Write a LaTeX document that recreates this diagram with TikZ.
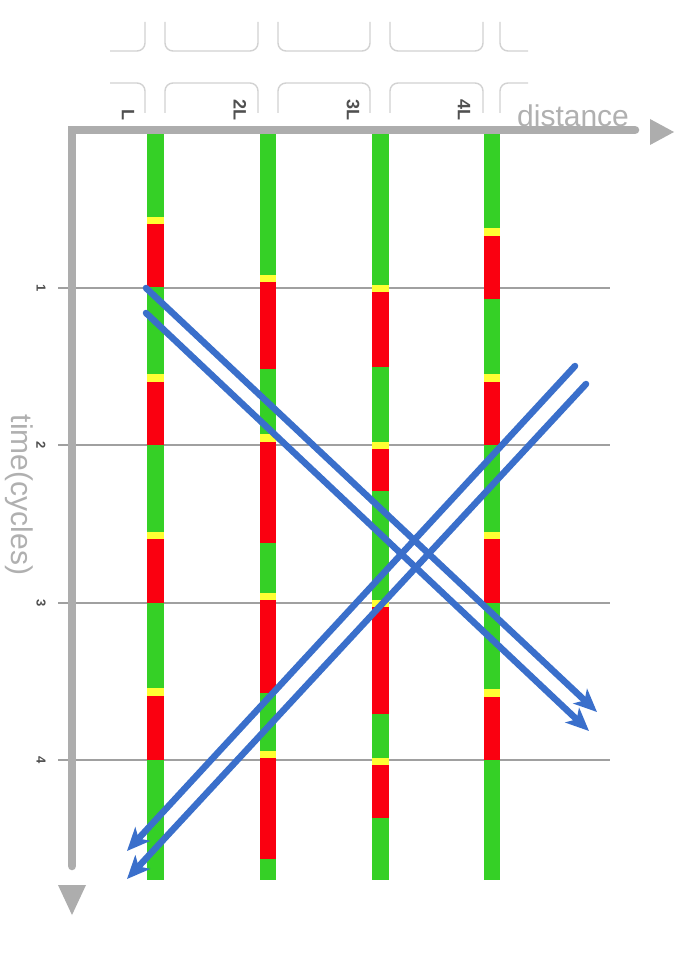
\documentclass[tikz,border=0pt]{standalone}
\usepackage{fontspec}
\setmainfont{Liberation Sans}
\usetikzlibrary{arrows.meta}
\definecolor{bgreen}{HTML}{35D026}
\definecolor{bred}{HTML}{FA0010}
\definecolor{byellow}{HTML}{FFFF33}
\definecolor{bblue}{HTML}{3A6FCB}
\definecolor{axisgray}{HTML}{ADADAD}
\definecolor{gridgray}{HTML}{A0A0A0}
\definecolor{boxgray}{HTML}{D2D2D2}
\definecolor{labgray}{HTML}{505050}
\definecolor{titlegray}{HTML}{B0B0B0}
\begin{document}
\begin{tikzpicture}[x=1pt,y=-1pt,
  boxline/.style={draw=boxgray,line width=1.4pt,rounded corners=8pt},
  gridline/.style={draw=gridgray,line width=1.4pt},
  axisline/.style={draw=axisgray,line width=8.5pt},
  axistip/.style={fill=axisgray},
  ticklab/.style={text=labgray,font=\fontsize{13}{15}\selectfont\bfseries,rotate=-90,inner sep=0pt},
  collab/.style={text=labgray,font=\fontsize{18}{20}\selectfont\bfseries,rotate=-90,inner sep=0pt,anchor=east},
  axtitle/.style={text=titlegray,font=\fontsize{30}{34}\selectfont,inner sep=0pt},
  wave/.style={draw=bblue,line width=6.5pt,line cap=round,-{Stealth[length=23pt,width=20pt,inset=6pt]}}
]
\useasboundingbox (0,0) rectangle (674,973);
\fill[white] (0,0) rectangle (674,973);

% ghost boxes, row 1 (lower halves)
\draw[boxline] (110,51) -- (145,51) -- (145,22);
\foreach \a/\b in {165/258,278/370,390/483}
  \draw[boxline] (\a,22) -- (\a,51) -- (\b,51) -- (\b,22);
\draw[boxline] (528,51) -- (500,51) -- (500,22);
% ghost boxes, row 2 (upper halves)
\draw[boxline] (110,83) -- (145,83) -- (145,113);
\foreach \a/\b in {165/258,278/370,390/483}
  \draw[boxline] (\a,113) -- (\a,83) -- (\b,83) -- (\b,113);
\draw[boxline] (528,83) -- (500,83) -- (500,113);

% grid lines
\foreach \y in {288,445,603,760}
  \draw[gridline] (58,\y) -- (610,\y);

% signal bars
\def\hw{8.3}
\def\cx{155.6}
\foreach \a/\b/\c in {130/216.7/bgreen,216.7/224/byellow,224/287.3/bred,287.3/374/bgreen,374/381.7/byellow,381.7/445/bred,445/531.7/bgreen,531.7/539.3/byellow,539.3/603.3/bred,603.3/688/bgreen,688/696/byellow,696/760/bred,760/880/bgreen}
  \fill[\c] (\cx-\hw,\a) rectangle (\cx+\hw,\b);
\def\cx{267.8}
\foreach \a/\b/\c in {130/275/bgreen,275/282.3/byellow,282.3/369.3/bred,369.3/434/bgreen,434/441.7/byellow,441.7/542.7/bred,542.7/592.7/bgreen,592.7/600/byellow,600/692.7/bred,692.7/750.7/bgreen,750.7/758.3/byellow,758.3/859.3/bred,859.3/880/bgreen}
  \fill[\c] (\cx-\hw,\a) rectangle (\cx+\hw,\b);
\def\cx{380.4}
\foreach \a/\b/\c in {130/285/bgreen,285/291.7/byellow,291.7/366.7/bred,366.7/442.3/bgreen,442.3/449.3/byellow,449.3/491/bred,491/600/bgreen,600/607.3/byellow,607.3/714/bred,714/758.3/bgreen,758.3/765/byellow,765/818.3/bred,818.3/880/bgreen}
  \fill[\c] (\cx-\hw,\a) rectangle (\cx+\hw,\b);
\def\cx{491.8}
\foreach \a/\b/\c in {130/228.3/bgreen,228.3/235.7/byellow,235.7/299.3/bred,299.3/374.3/bgreen,374.3/381.7/byellow,381.7/445/bred,445/531.7/bgreen,531.7/539/byellow,539/603.3/bred,603.3/689.3/bgreen,689.3/696.7/byellow,696.7/760/bred,760/880/bgreen}
  \fill[\c] (\cx-\hw,\a) rectangle (\cx+\hw,\b);

% axes
\coordinate (O) at (72,130);
\coordinate (Xe) at (635,130);
\coordinate (Ye) at (72,866);
\draw[axisline,line cap=round,line join=miter] (Xe) -- (O) -- (Ye);
\fill[axistip] (650,119) -- (674,132) -- (650,145) -- cycle;
\fill[axistip] (58,885) -- (72,915) -- (86,885) -- cycle;

% axis titles
\node[axtitle,anchor=base west] (dist) at (517,127) {distance};
\node[axtitle,rotate=-90] (time) at (19,495) {time(cycles)};

% column labels
\node[collab] (lL) at (128,121) {L};
\node[collab] (l2L) at (240,121) {2L};
\node[collab] (l3L) at (353,121) {3L};
\node[collab] (l4L) at (464,121) {4L};

% tick labels
\node[ticklab] (t1) at (41,288) {1};
\node[ticklab] (t2) at (41,445) {2};
\node[ticklab] (t3) at (41,603) {3};
\node[ticklab] (t4) at (41,760) {4};

% wave arrows
\coordinate (a1s) at (146,288);
\coordinate (a1e) at (597,712);
\coordinate (a2s) at (146,313);
\coordinate (a2e) at (589,731);
\coordinate (b1s) at (575,366);
\coordinate (b1e) at (127,851);
\coordinate (b2s) at (586,384);
\coordinate (b2e) at (127,879);
\draw[wave] (a1s) -- (a1e);
\draw[wave] (a2s) -- (a2e);
\draw[wave] (b1s) -- (b1e);
\draw[wave] (b2s) -- (b2e);
\end{tikzpicture}
\end{document}
